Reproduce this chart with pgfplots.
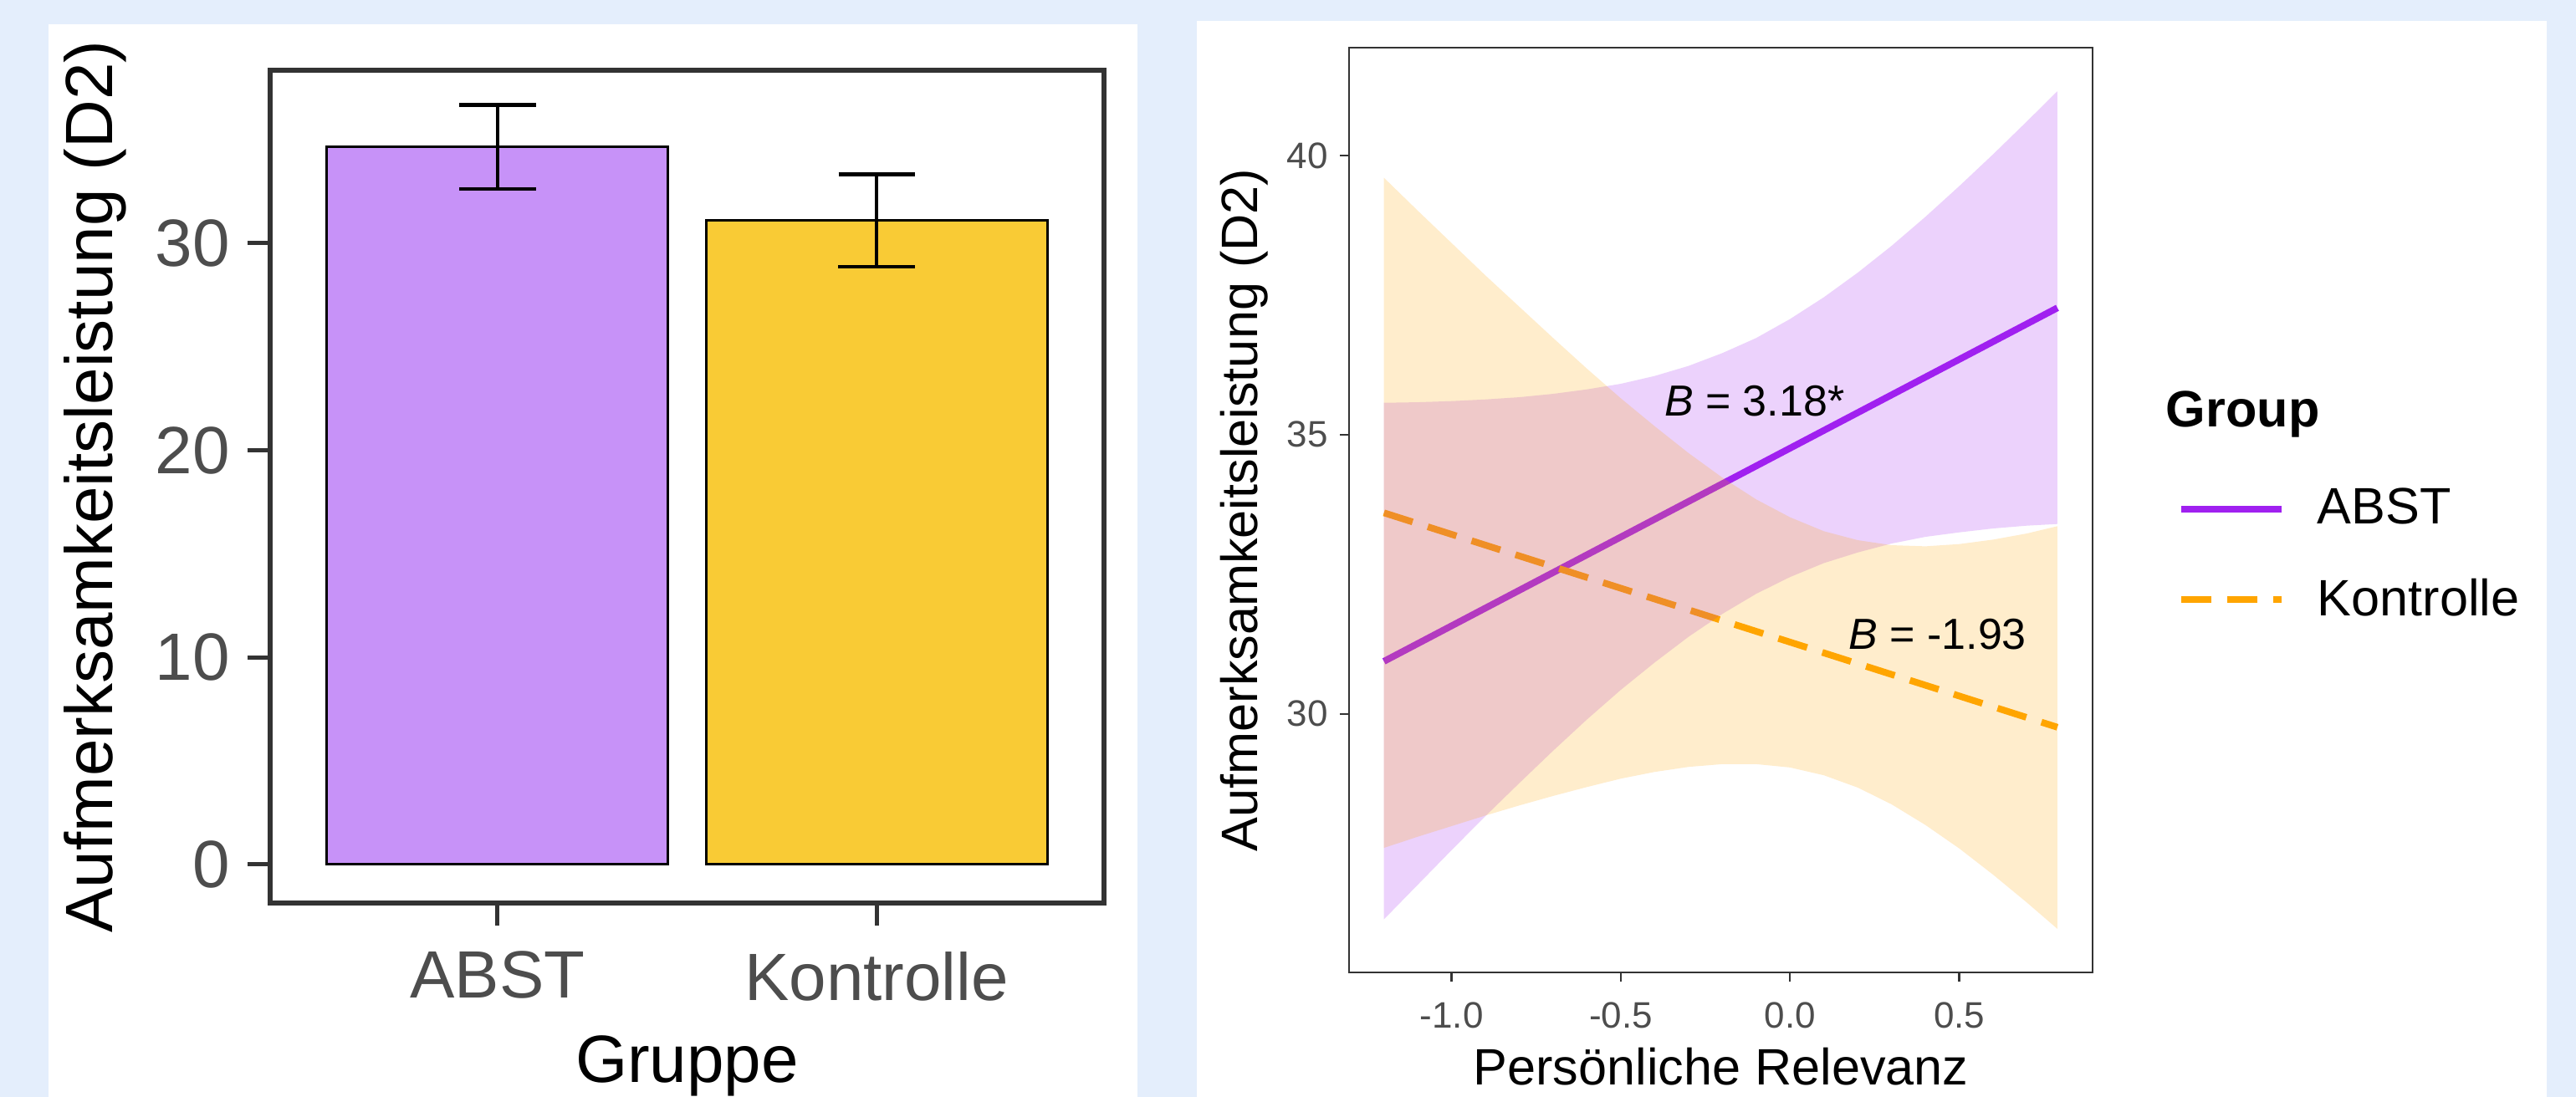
\documentclass[border=0pt]{standalone}
\usepackage{pgfplots}
\pgfplotsset{compat=1.18}
\usepackage{fontspec}
\setmainfont{Liberation Sans}
\definecolor{bgblue}{HTML}{E4EEFC}
\definecolor{abstbar}{HTML}{C792F8}
\definecolor{kontbar}{HTML}{F9CB35}
\definecolor{framegrey}{HTML}{333333}
\definecolor{ticktext}{HTML}{4D4D4D}
\definecolor{rpurple}{HTML}{A020F0}
\definecolor{rorange}{HTML}{FFA500}

\begin{document}
\begin{tikzpicture}
\useasboundingbox (0pt,0pt) rectangle (770pt,328pt);
\fill[bgblue] (0pt,0pt) rectangle (770pt,328pt);
\fill[white] (14.5pt,0pt) rectangle (340pt,320.75pt);
\fill[white] (357.75pt,0pt) rectangle (761.25pt,321.75pt);

% ---------- left: bar chart ----------
\begin{axis}[
  at={(80.75pt,58pt)}, anchor=south west,
  width=249.25pt, height=249pt, scale only axis,
  xmin=0.4, xmax=2.6, ymin=-1.86, ymax=38.35,
  xtick={1,2}, xticklabels={ABST,Kontrolle},
  ytick={0,10,20,30}, yticklabels={0,10,20,30},
  tick align=outside, tick pos=left,
  major tick length=6.75pt,
  every tick/.style={framegrey, line width=1.25pt},
  axis line style={framegrey, line width=1.35pt},
  ticklabel style={font=\fontsize{20}{24}\selectfont, text=ticktext},
  xticklabel style={yshift=-4.25pt},
  yticklabel style={xshift=-1.75pt},
  xlabel={Gruppe}, ylabel={Aufmerksamkeitsleistung (D2)},
  label style={font=\fontsize{20}{24}\selectfont, text=black},
  xlabel style={at={(axis description cs:0.5,-0.196)}, anchor=center},
  ylabel style={at={(axis description cs:-0.2096,0.5)}, anchor=center},
]
\addplot[ybar, bar width=0.9, bar shift=0pt, fill=abstbar, draw=black, line width=0.75pt]
  coordinates {(1,34.65)};
\addplot[ybar, bar width=0.9, bar shift=0pt, fill=kontbar, draw=black, line width=0.75pt]
  coordinates {(2,31.10)};
\addplot[draw=none, mark=none, forget plot,
  error bars/.cd, y dir=both, y explicit,
  error bar style={line width=1.1pt, draw=black},
  error mark options={rotate=90, mark size=11.4pt, line width=1.1pt, draw=black}]
  coordinates {(1,34.65) +- (0,2.03) (2,31.10) +- (0,2.23)};
\end{axis}

% ---------- right: interaction plot ----------
\begin{axis}[
  at={(403.25pt,37.25pt)}, anchor=south west,
  width=222.25pt, height=276.5pt, scale only axis,
  xmin=-1.303, xmax=0.894, ymin=25.37, ymax=41.93,
  xtick={-1,-0.5,0,0.5}, xticklabels={-1.0,-0.5,0.0,0.5},
  ytick={30,35,40}, yticklabels={30,35,40},
  tick align=outside, tick pos=left,
  major tick length=2.75pt,
  every tick/.style={framegrey, line width=0.6pt},
  axis line style={framegrey, line width=0.7pt},
  ticklabel style={font=\fontsize{11}{13}\selectfont, text=ticktext},
  xticklabel style={yshift=-2.75pt},
  xlabel={Persönliche Relevanz}, ylabel={Aufmerksamkeitsleistung (D2)},
  label style={font=\fontsize{15.3}{18}\selectfont, text=black},
  xlabel style={at={(axis description cs:0.5,-0.102)}, anchor=center},
  ylabel style={at={(axis description cs:-0.1406,0.5)}, anchor=center},
  legend style={at={(axis description cs:1.1136,0.4519)}, anchor=west,
    draw=none, fill=none, inner sep=0pt, row sep=14.75pt, column sep=9.75pt,
    nodes={inner sep=0pt}, font=\fontsize{15.3}{18}\selectfont},
  legend cell align=left,
  legend image code/.code={\draw[#1] (0pt,0pt) -- (30pt,0pt);},
]
\addplot[rpurple, line width=2pt] coordinates {(-1.2,30.94) (0.79,37.27)};
\addlegendentry{ABST}
\addplot[rorange, line width=2pt, dash pattern=on 9pt off 4.75pt] coordinates {(-1.2,33.60) (0.79,29.76)};
\addlegendentry{Kontrolle}

% confidence band ABST (upper edge, then lower edge backwards)
\addplot[fill=rpurple, fill opacity=0.2, draw=none, forget plot] coordinates {
(-1.2,35.57) (-1.1,35.58) (-1.0,35.60) (-0.9,35.63) (-0.8,35.67) (-0.7,35.73) (-0.6,35.81)
(-0.5,35.91) (-0.4,36.05) (-0.3,36.23) (-0.2,36.46) (-0.1,36.73) (0.0,37.07) (0.1,37.46)
(0.2,37.90) (0.3,38.38) (0.4,38.90) (0.5,39.45) (0.6,40.02) (0.7,40.61) (0.79,41.15)
(0.79,33.40) (0.7,33.37) (0.6,33.32) (0.5,33.25) (0.4,33.17) (0.3,33.05) (0.2,32.89)
(0.1,32.70) (0.0,32.45) (-0.1,32.15) (-0.2,31.79) (-0.3,31.38) (-0.4,30.92) (-0.5,30.43)
(-0.6,29.90) (-0.7,29.34) (-0.8,28.76) (-0.9,28.17) (-1.0,27.56) (-1.1,26.94) (-1.2,26.32)
} -- cycle;
% confidence band Kontrolle
\addplot[fill=rorange, fill opacity=0.2, draw=none, forget plot] coordinates {
(-1.2,39.60) (-1.1,39.01) (-1.0,38.43) (-0.9,37.85) (-0.8,37.29) (-0.7,36.73) (-0.6,36.18)
(-0.5,35.65) (-0.4,35.15) (-0.3,34.67) (-0.2,34.23) (-0.1,33.84) (0.0,33.52) (0.1,33.27)
(0.2,33.11) (0.3,33.02) (0.4,33.00) (0.5,33.04) (0.6,33.12) (0.7,33.23) (0.79,33.36)
(0.79,26.15) (0.7,26.62) (0.6,27.12) (0.5,27.59) (0.4,28.01) (0.3,28.38) (0.2,28.68)
(0.1,28.90) (0.0,29.04) (-0.1,29.10) (-0.2,29.10) (-0.3,29.05) (-0.4,28.96) (-0.5,28.84)
(-0.6,28.69) (-0.7,28.53) (-0.8,28.36) (-0.9,28.18) (-1.0,27.99) (-1.1,27.80) (-1.2,27.60)
} -- cycle;

\node[font=\fontsize{13}{15}\selectfont] at (axis cs:-0.105,35.6) {\textit{B} = 3.18*};
\node[font=\fontsize{13}{15}\selectfont] at (axis cs:0.436,31.42) {\textit{B} = -1.93};
\end{axis}

\node[anchor=base west, inner sep=0pt, font=\bfseries\fontsize{15.3}{18}\selectfont] at (647.25pt,200.25pt) {Group};
\end{tikzpicture}
\end{document}
